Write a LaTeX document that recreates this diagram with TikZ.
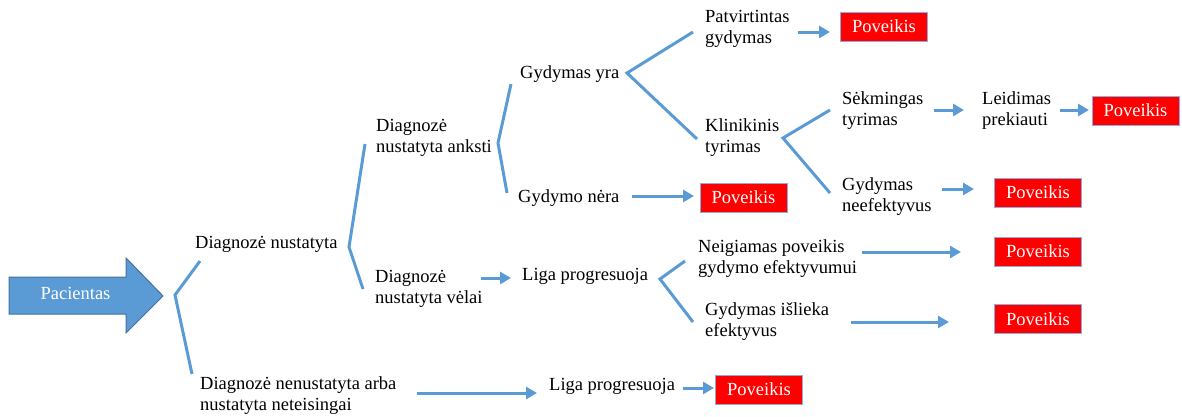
\documentclass[tikz,border=0pt]{standalone}
\usepackage{fontspec}
\setmainfont{Liberation Serif}
\usetikzlibrary{arrows.meta}
\definecolor{lineblue}{HTML}{5B9BD5}
\definecolor{arrowedge}{HTML}{41719C}
\definecolor{povred}{HTML}{FF0000}
\definecolor{povedge}{HTML}{8FAADC}
\tikzset{
  % text nodes are placed by the baseline of their last line
  txt/.style={anchor=base west, inner sep=0pt, align=left,
    font=\fontsize{18.5bp}{21bp}\selectfont},
  pov/.style={fill=povred, draw=povedge, line width=0.8bp, inner sep=0pt,
    minimum width=87bp, minimum height=29bp, text=white,
    font=\fontsize{18.5bp}{21bp}\selectfont},
  arr/.style={draw=lineblue, line width=3bp,
    -{Triangle[length=11bp,width=12bp]}},
  brk/.style={draw=lineblue, line width=3bp, line join=miter},
}
\begin{document}
\begin{tikzpicture}[x=1bp,y=-1bp]
\useasboundingbox (0,0) rectangle (1182,416);

% entry arrow
\filldraw[fill=lineblue, draw=arrowedge, line width=1bp]
  (9,277) -- (126,277) -- (126,258) -- (163,296) -- (126,333) -- (126,314) -- (9,314) -- cycle;
\node[inner sep=0pt, text=white, font=\fontsize{18.5bp}{21bp}\selectfont] (pac) at (75.5,293) {Pacientas};

% text nodes
\node[txt] (dn)   at (195,248) {Diagnozė nustatyta};
\node[txt] (dnn)  at (200,410) {Diagnozė nenustatyta arba\\nustatyta neteisingai};
\node[txt] (lp2)  at (549,390) {Liga progresuoja};
\node[txt] (da)   at (376,152) {Diagnozė\\nustatyta anksti};
\node[txt] (dv)   at (375,303) {Diagnozė\\nustatyta vėlai};
\node[txt] (lp1)  at (522,280) {Liga progresuoja};
\node[txt] (gy)   at (520,78)  {Gydymas yra};
\node[txt] (gn)   at (518,202) {Gydymo nėra};
\node[txt] (pg)   at (705,43)  {Patvirtintas\\gydymas};
\node[txt] (kt)   at (705,152) {Klinikinis\\tyrimas};
\node[txt] (st)   at (842,125) {Sėkmingas\\tyrimas};
\node[txt] (lpr)  at (982,125) {Leidimas\\prekiauti};
\node[txt] (gne)  at (842,211) {Gydymas\\neefektyvus};
\node[txt] (np)   at (698,273) {Neigiamas poveikis\\gydymo efektyvumui};
\node[txt] (gie)  at (705,336) {Gydymas išlieka\\efektyvus};

% outcome boxes
\node[pov] (p1) at (884,26.5)   {Poveikis};
\node[pov] (p2) at (743.5,197.5) {Poveikis};
\node[pov] (p3) at (1135.5,110.5) {Poveikis};
\node[pov] (p4) at (1038,192.5) {Poveikis};
\node[pov] (p5) at (1038,251.5) {Poveikis};
\node[pov] (p6) at (1038,319)   {Poveikis};
\node[pov] (p7) at (759,389.5)  {Poveikis};

% branching brackets
\coordinate (b1t) at (200,261); \coordinate (b1v) at (175,295); \coordinate (b1b) at (192,374);
\coordinate (b2t) at (365,144); \coordinate (b2v) at (349,247); \coordinate (b2b) at (363,289);
\coordinate (b3t) at (511,84);  \coordinate (b3v) at (498,143); \coordinate (b3b) at (507,193);
\coordinate (b4t) at (693,32);  \coordinate (b4v) at (627,73);  \coordinate (b4b) at (697,139);
\coordinate (b5t) at (830,110); \coordinate (b5v) at (783,138); \coordinate (b5b) at (830,193);
\coordinate (b6t) at (685,261); \coordinate (b6v) at (660,279); \coordinate (b6b) at (693,322);
\draw[brk] (b1t) -- (b1v) -- (b1b);
\draw[brk] (b2t) -- (b2v) -- (b2b);
\draw[brk] (b3t) -- (b3v) -- (b3b);
\draw[brk] (b4t) -- (b4v) -- (b4b);
\draw[brk] (b5t) -- (b5v) -- (b5b);
\draw[brk] (b6t) -- (b6v) -- (b6b);

% arrow end points
\coordinate (a1s) at (798,32);  \coordinate (a1e) at (830,32);
\coordinate (a2s) at (632,196); \coordinate (a2e) at (694,196);
\coordinate (a3s) at (934,110); \coordinate (a3e) at (964,110);
\coordinate (a4s) at (1060,110); \coordinate (a4e) at (1089,110);
\coordinate (a5s) at (942,189); \coordinate (a5e) at (974,189);
\coordinate (a6s) at (481,278); \coordinate (a6e) at (511,278);
\coordinate (a7s) at (862,252); \coordinate (a7e) at (961,252);
\coordinate (a8s) at (851,322); \coordinate (a8e) at (949,322);
\coordinate (a9s) at (417,393); \coordinate (a9e) at (537,393);
\coordinate (a10s) at (683,388); \coordinate (a10e) at (714,388);
\foreach \i in {1,...,10} \draw[arr] (a\i s) -- (a\i e);
\end{tikzpicture}
\end{document}
